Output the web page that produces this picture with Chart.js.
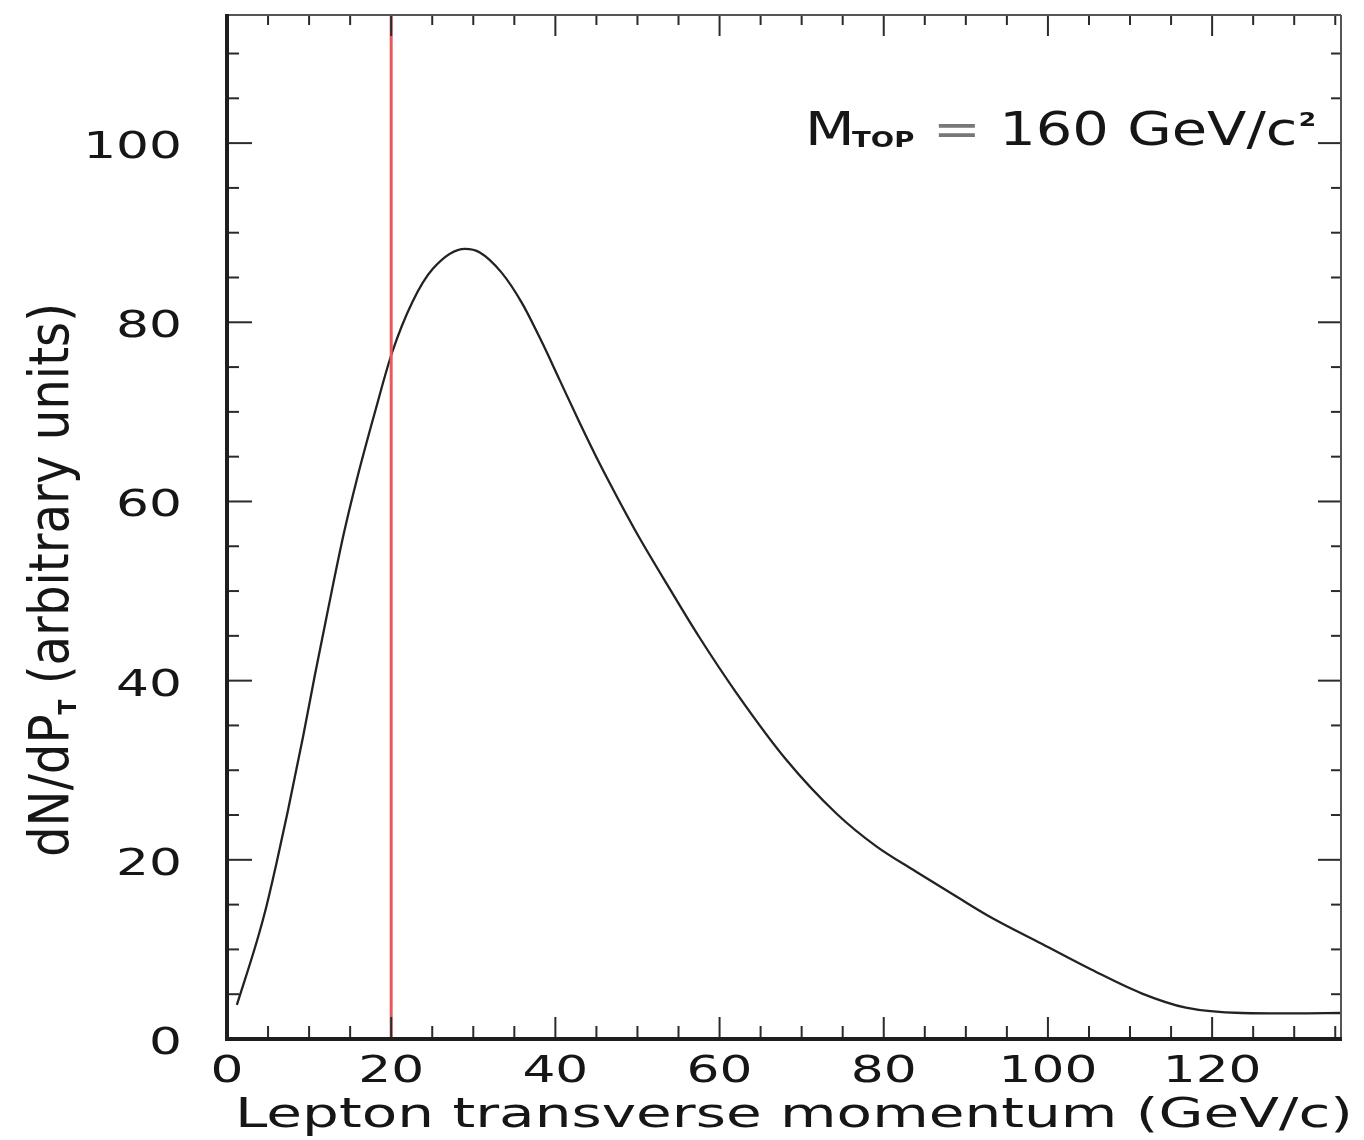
<!DOCTYPE html>
<html>
<head>
<meta charset="utf-8">
<title>Lepton transverse momentum</title>
<script src="https://cdn.jsdelivr.net/npm/chart.js@4.4.1/dist/chart.umd.min.js"></script>
<style>
  html, body { margin: 0; padding: 0; background: #fff; }
  canvas { display: block; }
</style>
</head>
<body>
<canvas id="ptChart" width="1364" height="1140"></canvas>
<script>
// lepton pT spectrum for M_top = 160 GeV/c^2
const ptValues = [1.2, 3.6, 4.8, 6.0, 7.4, 9.3, 10.7, 12.1, 14.2,
  15.8, 18.0, 20.1, 22.6, 25.1, 29.0, 30.8, 33.4, 35.9, 38.3,
  40.5, 42.9, 45.4, 47.4, 50.2, 53.9, 57.5, 62.0, 68.1, 74.2,
  79.1, 83.9, 89.2, 93.2, 99.3, 105.4, 111.4, 116.8, 123.6, 130.0, 135.7];
const dndpt = [3.8, 10.8, 14.8, 19.5, 25.4, 33.9, 40.6, 47.0, 56.3,
  62.4, 69.9, 76.6, 82.3, 86.0, 88.2, 87.8, 85.6, 82.2, 77.9,
  73.6, 68.9, 64.2, 60.7, 56.0, 50.3, 44.9, 38.7, 31.2, 25.2,
  21.5, 18.7, 15.7, 13.5, 10.6, 7.7, 5.1, 3.5, 2.9, 2.85, 2.9];
const ptCut = 20;

const xTickLabels = [0, 20, 40, 60, 80, 100, 120];
const yTickLabels = [0, 20, 40, 60, 80, 100];
const minorStep = 5;
const xRange = [0, 135.7];
const yRange = [0, 114.3];

const FONT = '"DejaVu Sans", sans-serif';
const INK = '#161616';

// text widened along x (the old plot fonts are wide)
function wideText(ctx, text, x, y, sx, align) {
  ctx.save();
  ctx.translate(x, y);
  ctx.scale(sx, 1);
  ctx.textAlign = align;
  ctx.fillText(text, 0, 0);
  ctx.restore();
}

function seg(ctx, x1, y1, x2, y2) {
  ctx.beginPath();
  ctx.moveTo(x1, y1);
  ctx.lineTo(x2, y2);
  ctx.stroke();
}

const framePlugin = {
  id: 'frame',
  afterDatasetsDraw(chart) {
    const ctx = chart.ctx;
    const { left, right, top, bottom } = chart.chartArea;
    const xs = chart.scales.x, ys = chart.scales.y;
    ctx.save();

    // inward ticks on all four sides
    ctx.strokeStyle = '#2a2a2a';
    ctx.lineWidth = 2;
    for (let v = 0; v <= xRange[1]; v += minorStep) {
      const px = xs.getPixelForValue(v);
      const major = xTickLabels.includes(v);
      seg(ctx, px, bottom, px, bottom - (major ? 22 : 13));
      seg(ctx, px, top, px, top + (major ? 21 : 10));
    }
    for (let v = 0; v <= yRange[1]; v += minorStep) {
      const py = ys.getPixelForValue(v);
      const major = yTickLabels.includes(v);
      seg(ctx, left, py, left + (major ? 25 : 12), py);
      seg(ctx, right, py, right - (major ? 23 : 10), py);
    }

    // frame
    ctx.strokeStyle = '#555';
    ctx.lineWidth = 2;
    seg(ctx, left, top, right, top);
    seg(ctx, right, top, right, bottom);
    ctx.strokeStyle = '#1e1e1e';
    ctx.lineWidth = 4;
    seg(ctx, left, top - 1, left, bottom + 2);
    seg(ctx, left - 2, bottom, right + 1, bottom);

    // tick labels
    ctx.fillStyle = INK;
    ctx.font = '37px ' + FONT;
    ctx.textBaseline = 'alphabetic';
    xTickLabels.forEach(v => {
      wideText(ctx, String(v), xs.getPixelForValue(v), bottom + 43, 1.4, 'center');
    });
    yTickLabels.forEach(v => {
      wideText(ctx, String(v), left - 45, ys.getPixelForValue(v) + 15, 1.4, 'right');
    });

    // x axis title
    const xTitle = 'Lepton transverse momentum (GeV/c)';
    ctx.font = '41px ' + FONT;
    const xw = ctx.measureText(xTitle).width;
    wideText(ctx, xTitle, 235, 1127, 1118 / xw, 'left');

    // y axis title, reads upwards, with P_T subscript
    const yMain = 'dN/dP', ySub = 'T', yRest = ' (arbitrary units)';
    const big = '44px ' + FONT, small = 'bold 20px ' + FONT;
    ctx.font = big;
    const w1 = ctx.measureText(yMain).width, w3 = ctx.measureText(yRest).width;
    ctx.font = small;
    const w2 = ctx.measureText(ySub).width;
    const along = 554 / (w1 + w2 + w3);
    ctx.save();
    ctx.translate(68, 857);
    ctx.scale(1.27, along);
    ctx.rotate(-Math.PI / 2);
    ctx.textAlign = 'left';
    ctx.font = big;
    ctx.fillText(yMain, 0, 0);
    ctx.font = small;
    ctx.fillText(ySub, w1, 6);
    ctx.font = big;
    ctx.fillText(yRest, w1 + w2, 0);
    ctx.restore();

    // top mass annotation
    ctx.save();
    ctx.translate(805, 145);
    ctx.scale(1.25, 1);
    ctx.textAlign = 'left';
    let cx = 0;
    ctx.font = '46px ' + FONT;
    ctx.fillText('M', cx, 0);
    cx += ctx.measureText('M').width;
    ctx.font = 'bold 22px ' + FONT;
    ctx.fillText('TOP', cx - 2, 2);
    cx += ctx.measureText('TOP').width - 2;
    ctx.font = '46px ' + FONT;
    ctx.fillStyle = '#777';
    ctx.fillText(' = ', cx, 0);
    cx += ctx.measureText(' = ').width;
    ctx.fillStyle = INK;
    ctx.fillText('160 GeV/c', cx, 0);
    cx += ctx.measureText('160 GeV/c').width;
    ctx.font = 'bold 20px ' + FONT;
    ctx.fillText('2', cx + 1, -19);
    ctx.restore();

    ctx.restore();
  }
};

const ctx = document.getElementById('ptChart').getContext('2d');

new Chart(ctx, {
  type: 'line',
  data: {
    datasets: [
      {
        label: 'pT cut',
        data: [{ x: ptCut, y: yRange[0] }, { x: ptCut, y: yRange[1] }],
        borderColor: '#e65a5e',
        borderWidth: 3,
        pointRadius: 0,
        order: 0
      },
      {
        label: 'dN/dPT',
        data: ptValues.map((x, i) => ({ x: x, y: dndpt[i] })),
        borderColor: '#222',
        borderWidth: 2.3,
        pointRadius: 0,
        cubicInterpolationMode: 'monotone',
        order: 1
      }
    ]
  },
  options: {
    responsive: false,
    animation: false,
    layout: { padding: { left: 227, right: 23, top: 15, bottom: 101 } },
    plugins: {
      legend: { display: false },
      tooltip: { enabled: false }
    },
    scales: {
      x: { type: 'linear', min: xRange[0], max: xRange[1], display: false },
      y: { type: 'linear', min: yRange[0], max: yRange[1], display: false }
    }
  },
  plugins: [framePlugin]
});
</script>
</body>
</html>
